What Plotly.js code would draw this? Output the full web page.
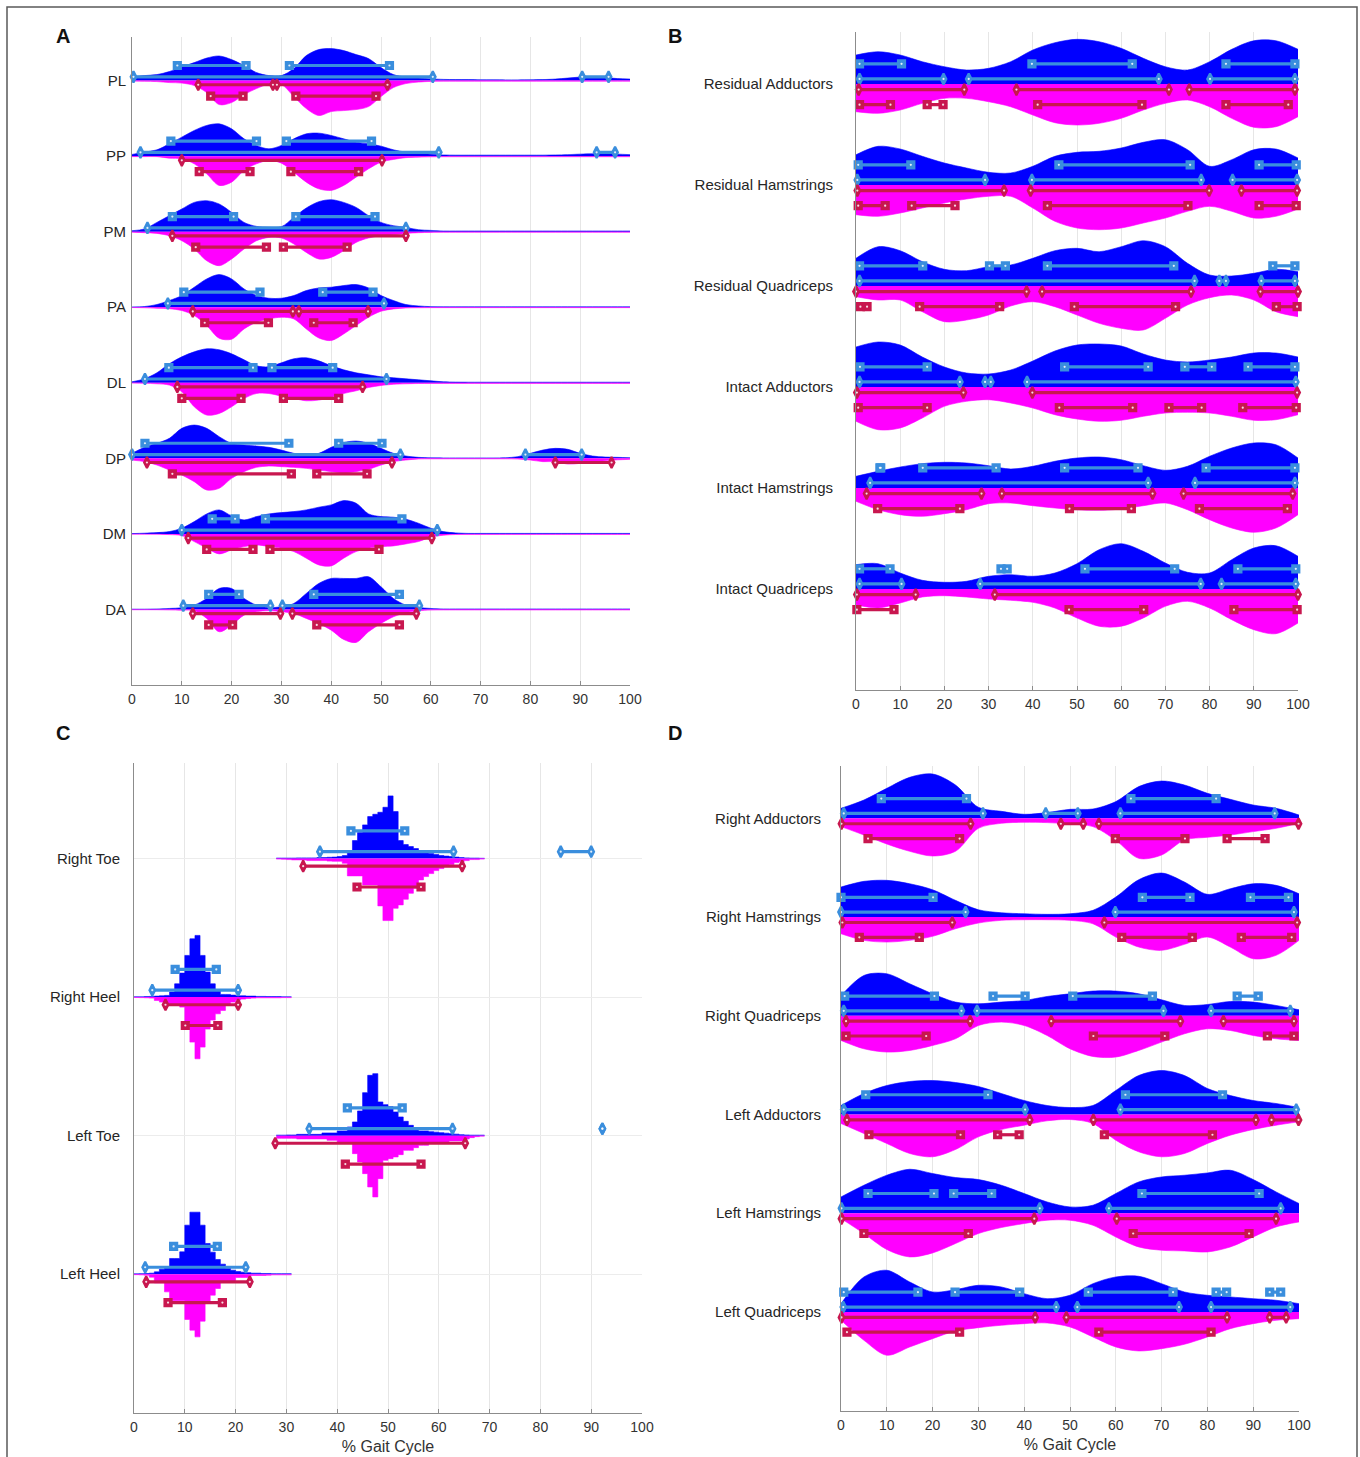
<!DOCTYPE html>
<html><head><meta charset="utf-8">
<script src="https://cdn.plot.ly/plotly-3.0.1.min.js"></script>
<style>html,body{margin:0;padding:0;background:#fff;}#chart{width:1360px;height:1457px;}</style>
</head><body><div id="chart"></div>
<script>
// ---------------- DATA ----------------
// Panel A: categories (top to bottom), density heights sampled every 2.5 % gait cycle
const A_categories = ['PL','PP','PM','PA','DL','DP','DM','DA'];
const A_PL_blue = [3.7,5,6,9,13.7,18,22.5,24.6,21,15,8,5,5,12,25,31,32,30,26,22,13,6,3.5,2.5,1.7,1.2,1,1,0.8,0.8,0.7,0.7,0.8,1,1.5,2.5,3.5,3.5,3,2,1.5];
const A_PL_mag  = [0.5,0.7,1,2,2.5,5,12,24,22,14,8,3.5,4,16,28,35,31,30,29,26,16,7,3,1.5,0.8,0.6,0.6,0.6,0.6,0.6,0.6,0.6,0.6,0.6,0.6,0.6,0.6,0.6,0.6,0.6,0.6];
const A_PP_blue = [1.7,4,6.3,12.3,19,25.7,30.7,32.3,27.3,17.3,10.7,7.3,10.7,17.3,22.3,23,20.7,17.3,14,12.3,10,6.3,4,3,2,1.2,1,1,1,1,1,1,1,1,1.2,1.5,2,2.3,2.3,2,1.5];
const A_PP_mag  = [0.5,0.5,0.5,2,2.7,7.7,17.7,29.3,26,14.3,7.7,4.3,7,16,26,32.7,34.3,29.3,21,12.7,6,3.3,1.5,1,0.7,0.6,0.6,0.6,0.6,0.6,0.6,0.6,0.6,0.6,0.6,0.6,0.6,0.6,0.6,0.6,0.6];
const A_PM_blue = [1,2.7,9.3,16,22.7,29.3,31,27.7,19.3,9.3,5.3,4.3,5,14.3,23.7,30,32,29.3,24.3,16,9.3,6,4.3,2,1.3,0.7,0.7,0.7,0.7,0.7,0.7,0.7,0.7,0.7,0.7,0.7,0.7,0.7,0.7,0.7,0.7];
const A_PM_mag  = [0.5,1,1.7,4,9,17.3,29,34,27.3,17.3,9,5.7,6.3,12.3,20.7,27.3,25.7,19,10.7,6.3,4,3,1.7,1,0.7,0.6,0.6,0.6,0.6,0.6,0.6,0.6,0.6,0.6,0.6,0.6,0.6,0.6,0.6,0.6,0.6];
const A_PA_blue = [0.3,0.7,2.7,6.7,11.7,20,28.3,32.7,28.3,18.3,11.7,9,9,11.7,16.7,19.3,20,21.7,22.7,19.3,11.7,6.7,2.7,1.3,0.6,0.4,0.4,0.4,0.4,0.4,0.4,0.4,0.4,0.4,0.4,0.4,0.4,0.4,0.4,0.4,0.4];
const A_PA_mag  = [0.3,0.5,1,1.5,3.3,8.3,18.3,31,32,21.7,15,11.7,10,11.7,21.7,30.7,33.3,26.7,18.3,10,4,1.7,0.7,0.5,0.4,0.4,0.4,0.4,0.4,0.4,0.4,0.4,0.4,0.4,0.4,0.4,0.4,0.4,0.4,0.4,0.4];
const A_DL_blue = [1,4,10,19,26,31,34,33,29,23,17,16,20,24,25,22,17,13,10,8,6,5,4,3,2,1,0.7,0.6,0.6,0.6,0.6,0.6,0.6,0.6,0.6,0.6,0.6,0.6,0.6,0.6,0.6];
const A_DL_mag  = [0.3,0.5,1,2.3,9,24,32.3,30.7,24,15.7,10.7,10.7,13.3,15.7,18,17.3,14.7,10.7,8,4.7,2.7,1.5,1,0.7,0.6,0.6,0.6,0.6,0.6,0.6,0.6,0.6,0.6,0.6,0.6,0.6,0.6,0.6,0.6,0.6,0.6];
const A_DP_blue = [5,11,15,20,30,33.3,30,21.7,15,13.3,12.3,11,8.3,5,3.7,5,11,15.7,17.3,15,10,5,2.3,1,0.5,0.4,0.4,0.4,0.4,0.4,0.6,1.7,5,8.3,10,9,5,2.3,1.3,1,0.6];
const A_DP_mag  = [1.7,3.3,6.7,11.7,16.7,23.3,31.7,30,20,13.3,9,7.7,8.3,9,10,11.7,13.3,14.3,13.3,11,6.7,3.3,1.7,0.6,0.5,0.5,0.5,0.5,0.5,0.5,0.5,0.7,1.7,3.3,3.3,5.7,5,3.3,2.3,1.5,1];
const A_DM_blue = [0.3,0.7,1.3,2.3,5.7,12.3,20,24,18,14,17.3,20,21.3,22.3,24,26.7,29,33.3,30.7,20,17.3,16.7,14.7,10.7,5.7,2.3,1,0.5,0.5,0.5,0.5,0.5,0.5,0.5,0.5,0.5,0.5,0.5,0.5,0.5,0.5];
const A_DM_mag  = [0.3,0.3,0.3,0.7,1.7,7.7,14.3,20,16,12.7,11,12.7,14.3,17.7,24.3,31,32,24.3,17.7,14.3,12.7,12,10,7.7,3.3,1.3,0.6,0.5,0.5,0.5,0.5,0.5,0.5,0.5,0.5,0.5,0.5,0.5,0.5,0.5,0.5];
const A_DA_blue = [0.3,0.3,0.5,1,1.7,4.3,11,21,21,11,4.3,2,2.7,6,16,26,31,31,31,32.7,22.7,11,4.3,2,1,0.5,0.5,0.5,0.5,0.5,0.5,0.5,0.5,0.5,0.5,0.5,0.5,0.5,0.5,0.5,0.5];
const A_DA_mag  = [0.3,0.3,0.3,0.5,0.7,1.3,9,22.3,15.7,5.7,2.3,1.3,2.3,4,9,14,20.7,30,33,22.3,14,7.3,3.3,1.3,0.6,0.5,0.5,0.5,0.5,0.5,0.5,0.5,0.5,0.5,0.5,0.5,0.5,0.5,0.5,0.5,0.5];
// ranges [start,end] in % gait cycle, one list per category
const A_blueSquare  = [[[9.1,22.9],[31.6,51.7]],[[7.8,25],[31,48.1]],[[8.1,20.4],[32.9,48.8]],[[10.4,25.7],[38.3,48.4]],[[7.4,24.3],[28.1,40.3]],[[2.6,31.5],[41.5,50.2]],[[16.1,20.7],[26.8,54.2]],[[15.4,21.5],[36.5,53.7]]];
const A_blueDiamond = [[[0.3,60.4],[90.4,95.7]],[[1.7,61.6],[93.3,97]],[[3.1,55]],[[7.2,50.6]],[[2.6,51.1]],[[0,53.9],[79,90.3]],[[10,61.3]],[[10.3,27.8],[30.2,57.7]]];
const A_redDiamond  = [[[13.3,28.3],[29.1,51.3]],[[10,50.2]],[[8.1,55]],[[12.2,32.3],[33.5,47.4]],[[9.1,46.3]],[[3,52.2],[85,96.3]],[[11.3,60.2]],[[12.2,29.8],[32.2,57.1]]];
const A_redSquare   = [[[15.8,22.3],[32.9,49]],[[13.5,23.7],[31.9,45.5]],[[12.8,27],[30.4,43.2]],[[14.6,27.4],[36.5,44.4]],[[10,21.9],[30.4,41.5]],[[8.1,32],[37.1,47.2]],[[15,24.3],[27.7,49.6]],[[15.4,20.2],[37.1,53.7]]];

// Panel B: sampled every 5 %
const B_categories = ['Residual Adductors','Residual Hamstrings','Residual Quadriceps','Intact Adductors','Intact Hamstrings','Intact Quadriceps'];
const B_RA_blue = [29,32.3,29,22.3,17.3,14,15.7,22.3,34,41.3,44.7,42.3,35.7,25.7,17.3,14,22.3,34.7,43.3,43.3,34.7];
const B_RA_mag  = [27.7,29.3,26,19.3,14.3,14.3,17.7,22.7,31,38.7,41,39.3,34.3,26,19.3,16,22.7,34.3,43.3,42.7,32.7];
const B_RH_blue = [30.3,38.7,36,28.7,22,17,12.7,12,18.7,28.7,32.7,33.7,37,42.7,45.3,35.3,18.7,25.3,35.3,36,27];
const B_RH_mag  = [29.7,31.3,28,23,18,14,11.3,11.3,23,36.3,43,44.7,43,38,33,26.3,21.3,26.3,33,31.3,24];
const B_RQ_blue = [27.7,39.3,35.3,24.3,16.7,15.3,19.3,21,27.7,35.3,37.7,34.3,39.3,45.3,39.3,22.7,11,10,12.7,16.7,14.3];
const B_RQ_mag  = [10.7,14,14,25.7,35.7,34,29,20,15.7,20.7,29,37.3,42.3,44,32.3,19,11.7,9,14,25.7,30.7];
const B_IA_blue = [40,45,42,30,20,14,13,17,26,36,42,43,41,33,27,25,27,30,34,34,30];
const B_IA_mag  = [34.3,42.7,41,31,19.3,14.3,12.7,16,21,27.7,32,34.3,33.3,29.3,26,25.3,26,29.3,33.3,32.7,27.7];
const B_IH_blue = [11.7,16.7,21,24.3,25.7,25,22.3,19,21.7,26.7,30,31,28.3,22.3,17.7,21.7,31.7,40,45,43.3,30];
const B_IH_mag  = [13.3,21.7,26.7,28.3,25.7,21.7,15.7,15,17.7,20,21.7,22.3,21,17.7,15,21.7,31.7,40,44.3,40,26.7];
const B_IQ_blue = [24.3,25.3,16,8.7,6.7,7.7,12.7,14.3,12.7,16,25.3,39.3,45.3,37.7,26,16.7,16,29.3,41,43.3,32.7];
const B_IQ_mag  = [15.7,19,14,8,6.7,8,10,11.3,13.3,19,29,37.3,37.3,29,17.3,12.3,19,30.7,40.7,44.7,34];
const B_blueSquare  = [[[0.8,10.3],[39.8,62.5],[83.7,99.3]],[[0.5,12.4],[45.9,75.6],[91.2,99.6]],[[0.8,15.1],[30.2,33.8],[43.3,71.9],[94.3,99.3]],[[0.9,16.1],[47.2,66.1],[74.4,80.5],[88.7,99.3]],[[5.4,5.6],[15.1,31.7],[47.2,63.8],[79.2,99.3]],[[0.8,7.7],[32.8,34.2],[51.8,72.1],[86.4,99.5]]];
const B_blueDiamond = [[[0.8,19.8],[25.5,68.5],[80.1,99.3]],[[0.3,29.2],[39.8,78.1],[85.2,99.8]],[[0.8,76.6],[82.2,83.7],[91.7,99.3]],[[0.8,23.5],[29.2,30.5],[38.7,99.5]],[[3.2,66.1],[76.7,99.3]],[[0.8,10.3],[28.1,78],[82.7,99.5]]];
const B_redDiamond  = [[[0.6,24.5],[36.3,70.8],[75.4,99.3]],[[0.3,33.5],[39.5,79.9],[87.2,99.8]],[[0,38.6],[42.1,75.8],[91.5,100]],[[0.2,24.3],[39.9,99.8]],[[2.4,28.4],[33,67.1],[74.1,98.8]],[[0.2,13.5],[31.4,100]]];
const B_redSquare   = [[[0.8,7.8],[16.1,19.7],[41.1,64.7],[83.7,97.8]],[[0.5,6.6],[12.6,22.4],[43.3,75.1],[91.2,99.6]],[[1,2.5],[14.4,32.5],[49.4,72.3],[95.1,99.8]],[[0.5,16.1],[46,62.6],[70.8,78.2],[87.5,99.6]],[[4.9,23.5],[48.3,62.3],[77.7,97.6]],[[0.2,8.6],[48.2,65.1],[85.5,99.8]]];

// Panel C: 1 % histogram bins (toe events: bins 28..68, heel events: bins 0..30)
const C_categories = ['Right Toe','Right Heel','Left Toe','Left Heel'];
const C_RT_blue = [0.5,0.5,0.5,0.5,0.7,0.7,0.7,0.7,1,1,1.3,1.5,2,3,7,18,26,33.7,42,44.3,46.3,51.3,62.7,47,18,14,12,10,8,6.5,5,4,3,2.5,2,1.5,1,0.7,0.5,0.5,0.3];
const C_RT_mag  = [0.5,0.7,1,1.3,1.3,1.5,2,2,2,2,2.5,2.7,2.7,4.7,17.3,17.3,17.3,26.3,26.3,26.3,47.3,62,62,49.7,46.3,40.7,34.7,29.7,21.3,18,15,12,10,8,6,4,3,2,1,1,0.5];
const C_RH_blue = [0.3,0.3,0.5,0.7,1,1.3,1.7,5,13.3,24,41.7,58.3,61.7,41.7,25,13.3,6.7,2.7,2.7,2,1.3,1.3,1,1,0.7,0.7,0.5,0.5,0.5,0.3,0.3];
const C_RH_mag  = [0.3,0.5,0.7,1,3.3,5,6.7,8.3,8.3,10,25,45,61.7,50,32,23,16.7,13.3,8.3,5,3,2,1.3,1,0.7,0.7,0.7,0.7,0.7,0.5,0.5];
const C_LT_blue = [0.5,0.5,0.7,0.7,1.3,1.3,1.3,1.3,1.3,2.7,2.7,2.7,4.7,4.7,8.7,13.7,24.7,43,60.3,62,33.7,31,29,23.7,18.7,14.3,10.3,7,4.7,4.7,4,3.5,3,2.5,2,1.5,1,0.7,0.5,0.5,0.5];
const C_LT_mag  = [2.7,2.7,2.7,2.7,3.3,3.3,3.3,3.3,3.3,3.3,4.7,4.7,6.3,6.3,6.3,18,26.3,38,51.3,61.3,43,24.7,23,21.3,19,14.7,14.7,12,9.7,9.7,7.3,7.3,7.3,7.3,5.3,5.3,5.3,3.3,2,1,0.5];
const C_LH_blue = [0.3,0.5,0.7,1,2.3,5,7.3,15.7,15.7,22.3,49,62,62,49,30.7,22,14.7,10,6,4,2.7,2,1.5,1,1,0.7,0.7,0.5,0.5,0.5,0.5];
const C_LH_mag  = [0.5,0.7,1,3,8.7,8.7,17.7,26.7,26.7,26.7,45.3,56,62.7,47,27.7,21,14.3,7.7,7.7,7.7,3.3,3.3,3.3,1.3,1.3,1.3,1,0.7,0.7,0.7,0.7];
const C_blueSquare  = [[[42.7,53.3]],[[8.1,16.2]],[[42,52.8]],[[7.8,16.4]]];
const C_blueDiamond = [[[36.6,62.9],[84,90]],[[3.6,20.5]],[[34.5,62.7],[92.2,92.2]],[[2.2,22]]];
const C_redDiamond  = [[[33.3,64.6]],[[6.2,20.5]],[[27.8,65.2]],[[2.4,22.8]]];
const C_redSquare   = [[[43.9,56.5]],[[10.1,16.5]],[[41.6,56.5]],[[6.7,17.4]]];

// Panel D: sampled every 5 %
const D_categories = ['Right Adductors','Right Hamstrings','Right Quadriceps','Left Adductors','Left Hamstrings','Left Quadriceps'];
const D_RA_blue = [10,18.3,30,41,44.3,33.3,11,7,4,5.7,9,9.3,16.7,31.7,37.3,33.3,25,19,13.3,10,3.3];
const D_RA_mag  = [8.3,16.7,25.7,33,37.7,33,10,5,4,4.3,5.7,8.3,22,40,36.7,21.7,19,16.7,13.3,10,5];
const D_RH_blue = [30,35.7,36.7,33.3,27.3,16.7,7.3,4.3,3.3,2.7,3.3,6.7,20,37.3,44,35,22.7,28.3,33.3,31.7,23.3];
const D_RH_mag  = [16.7,23.3,25,23.3,19.3,11.7,6,3.3,2.7,2.7,3.3,6.7,20,30,33.3,27.3,20,30,41.7,38.3,23.3];
const D_RQ_blue = [20,40.3,42,32,22,13.7,12,13.7,15.3,19.3,22,24.7,24.7,22,16,10.3,11.3,14.3,13.7,10.3,6];
const D_RQ_mag  = [24.7,33,36.3,34.7,29.7,23,9.7,6.3,9.7,19.7,33,40.7,41.3,34.7,26.3,18,13,14.7,19.7,23,24.7];
const D_LA_blue = [9,21,29,33,34,32,28,21,14,9,7,9,24,39,44,39,26,19,14,11,7];
const D_LA_mag  = [9,19,29,39,42.3,35,22.3,15,10.7,6.3,5,9,25.7,37.3,42.3,39,29,20.7,15,10.7,7.3];
const D_LH_blue = [16.3,28,38,44,39.7,35.7,33.7,28,19.7,11.3,6.3,8,19.7,31.3,36.3,38,40.3,43,33.7,21.3,9.7];
const D_LH_mag  = [5.3,20.3,36.3,43.7,39.7,30.3,20.3,14.3,10.3,7,7,12,23.7,33.7,37,37.7,38.7,33.7,23.7,13.7,8.7];
const D_LQ_blue = [8.3,35,41.7,30,20,22.3,26.7,25,18.3,13.3,16.7,28.3,35,35.7,28.3,20,16.7,15,13.3,11.7,8.3];
const D_LQ_mag  = [8.3,28.3,43.3,35,26.7,19,15.7,13.3,11.7,11,15,25,35,39,36.7,32.3,25,16.7,11.7,8.3,6.7];
const D_blueSquare  = [[[8.8,27.4],[63.3,81.9]],[[0,20.1],[65.8,76.2],[89.4,97.7]],[[0.8,20.4],[33.2,40.2],[50.6,68],[86.5,91.1]],[[5.4,32.1],[62.1,83.3]],[[5.9,20.3],[24.6,32.9],[65.7,91.3]],[[0.6,16.8],[24.9,39],[54,72.5],[81.9,84.2],[93.6,96]]];
const D_blueDiamond = [[[0.6,31],[44.7,51.7],[61,94.7]],[[0,27.2],[59.9,98.9]],[[0.6,26.3],[29.7,70.4],[80.8,98.1]],[[0.6,40.2],[61,99.4]],[[0.1,43.4],[58.5,96]],[[0.5,47],[51.6,73.8],[80.8,98.1]]];
const D_redDiamond  = [[[0.1,28.3],[48,52.9],[56.3,99.9]],[[0.3,24.3],[57.5,99.6]],[[1.1,28.2],[45.9,74.1],[83.5,98.9]],[[1.3,41.2],[55.1,90.6],[94,99.9]],[[0.1,42.2],[60.2,95]],[[0.1,42.4],[49.2,84.3],[93.6,97.2]]];
const D_redSquare   = [[[5.9,25.9],[59.9,75.1],[84.3,92.6]],[[4,17.1],[61.3,76.7],[87.4,98.4]],[[1.1,18.6],[55.1,70.7],[93.1,98.9]],[[6.1,26.1],[34.2,38.9],[57.5,81.1]],[[5,27.8],[63.8,89.1]],[[1.3,25.9],[56.3,80.8]]];

const xTicks = [0,10,20,30,40,50,60,70,80,90,100];
const xTitle = '% Gait Cycle';

// ---------------- BUILD ----------------
function seq(a, b, s) { const o = []; for (let v = a; v <= b + 1e-9; v += s) o.push(+v.toFixed(3)); return o; }
const grid25 = seq(0, 100, 2.5), grid5 = seq(0, 100, 5);
const toeBins = seq(28, 68, 1), heelBins = seq(0, 30, 1);

const W = 1360, H = 1457;
const FONT = 'Liberation Sans, Arial, Helvetica, sans-serif';
const BLUE = '#0000FF', MAG = '#FF00FF', LB = '#3A8EDD', CR = '#C8174F';

const panels = [
  { letter:'A', cats:A_categories, grids:A_categories.map(()=>grid25),
    blue:[A_PL_blue,A_PP_blue,A_PM_blue,A_PA_blue,A_DL_blue,A_DP_blue,A_DM_blue,A_DA_blue],
    mag:[A_PL_mag,A_PP_mag,A_PM_mag,A_PA_mag,A_DL_mag,A_DP_mag,A_DM_mag,A_DA_mag],
    bars:[A_blueSquare,A_blueDiamond,A_redDiamond,A_redSquare],
    box:{l:132,r:630,t:37.3,b:685}, yTop:8.573, shape:'spline', standoff:2, letterPos:[63,36], title:false },
  { letter:'B', cats:B_categories, grids:B_categories.map(()=>grid5),
    blue:[B_RA_blue,B_RH_blue,B_RQ_blue,B_IA_blue,B_IH_blue,B_IQ_blue],
    mag:[B_RA_mag,B_RH_mag,B_RQ_mag,B_IA_mag,B_IH_mag,B_IQ_mag],
    bars:[B_blueSquare,B_blueDiamond,B_redDiamond,B_redSquare],
    box:{l:856,r:1298,t:31.7,b:690}, yTop:6.518, shape:'spline', standoff:19, letterPos:[675,36], title:false },
  { letter:'C', cats:C_categories, grids:[toeBins,heelBins,toeBins,heelBins],
    blue:[C_RT_blue,C_RH_blue,C_LT_blue,C_LH_blue],
    mag:[C_RT_mag,C_RH_mag,C_LT_mag,C_LH_mag],
    bars:[C_blueSquare,C_blueDiamond,C_redDiamond,C_redSquare],
    box:{l:134,r:642,t:763,b:1412.7}, yTop:4.69, shape:'hv', standoff:10, letterPos:[63,733], title:true },
  { letter:'D', cats:D_categories, grids:D_categories.map(()=>grid5),
    blue:[D_RA_blue,D_RH_blue,D_RQ_blue,D_LA_blue,D_LH_blue,D_LQ_blue],
    mag:[D_RA_mag,D_RH_mag,D_RQ_mag,D_LA_mag,D_LH_mag,D_LQ_mag],
    bars:[D_blueSquare,D_blueDiamond,D_redDiamond,D_redSquare],
    box:{l:841,r:1299,t:765.7,b:1410.7}, yTop:6.533, shape:'spline', standoff:16, letterPos:[675,733], title:true }
];

const barStyles = [
  { off: 0.2,   color: LB, symbol: 'square',       size: 7 },
  { off: 0.05,  color: LB, symbol: 'diamond-tall', size: 8 },
  { off: -0.055,color: CR, symbol: 'diamond-tall', size: 8 },
  { off: -0.205,color: CR, symbol: 'square',       size: 7 }
];

const traces = [];
const layout = {
  width: W, height: H, margin: {l:0, r:0, t:0, b:0}, autosize: false,
  paper_bgcolor: '#ffffff', plot_bgcolor: 'rgba(0,0,0,0)', showlegend: false,
  font: {family: FONT, color: '#262626'}, annotations: [], shapes: []
};

panels.forEach((p, pi) => {
  const sfx = pi ? String(pi + 1) : '';
  const xa = 'x' + sfx, ya = 'y' + sfx;
  const N = p.cats.length;
  const unit = (p.box.b - p.box.t) / p.yTop; // px per category step
  const smooth = p.shape === 'spline' ? {shape:'spline', smoothing:0.9} : {shape:'hv'};

  layout['xaxis' + sfx] = {
    domain: [p.box.l / W, p.box.r / W], anchor: ya, range: [0, 100],
    tickvals: xTicks, ticktext: xTicks.map(String),
    showgrid: true, gridcolor: '#e6e6e6', gridwidth: 1, zeroline: false,
    showline: true, linecolor: '#8c8c8c', linewidth: 1,
    ticks: 'inside', ticklen: 4, tickcolor: '#8c8c8c', ticklabelstandoff: 1,
    tickfont: {family: FONT, size: 14, color: '#333'}, fixedrange: true,
    title: p.title ? {text: xTitle, font: {family: FONT, size: 16, color: '#333'}, standoff: 7} : {text: ''}
  };
  layout['yaxis' + sfx] = {
    domain: [1 - p.box.b / H, 1 - p.box.t / H], anchor: xa, range: [0, p.yTop],
    tickvals: p.cats.map((c, i) => N - i), ticktext: p.cats,
    showgrid: true, gridcolor: '#ececec', zeroline: false,
    showline: true, linecolor: '#8c8c8c', linewidth: 1, ticks: '',
    ticklabelstandoff: p.standoff,
    tickfont: {family: FONT, size: 15, color: '#262626'}, fixedrange: true
  };

  p.cats.forEach((c, i) => {
    const yc = N - i;
    let xs = p.grids[i].slice();
    let hb = p.blue[i].slice(), hm = p.mag[i].slice();
    if (p.shape === 'hv') { xs.push(xs[xs.length - 1] + 1); hb.push(hb[hb.length - 1]); hm.push(hm[hm.length - 1]); }
    const base = {type:'scatter', mode:'lines', x: xs, y: xs.map(() => yc), xaxis: xa, yaxis: ya,
                  line: Object.assign({width: 0, color: 'rgba(0,0,0,0)'}, smooth), hoverinfo: 'skip', showlegend: false};
    traces.push(base);
    traces.push({type:'scatter', mode:'lines', name: c + ' (blue)', x: xs, y: hb.map(h => yc + h / unit),
      xaxis: xa, yaxis: ya, fill: 'tonexty', fillcolor: BLUE,
      line: Object.assign({width: 0.6, color: BLUE}, smooth), hoverinfo: 'skip', showlegend: false});
    traces.push(Object.assign({}, base));
    traces.push({type:'scatter', mode:'lines', name: c + ' (magenta)', x: xs, y: hm.map(h => yc - h / unit),
      xaxis: xa, yaxis: ya, fill: 'tonexty', fillcolor: MAG,
      line: Object.assign({width: 0.6, color: MAG}, smooth), hoverinfo: 'skip', showlegend: false});
  });

  const dotX = [], dotY = [];
  p.bars.forEach((group, gi) => {
    const st = barStyles[gi];
    const x = [], y = [];
    group.forEach((segs, i) => {
      const yy = (N - i) + st.off;
      segs.forEach(s => { x.push(s[0], s[1], null); y.push(yy, yy, null); dotX.push(s[0], s[1]); dotY.push(yy, yy); });
    });
    traces.push({type:'scatter', mode:'lines+markers', x, y, xaxis: xa, yaxis: ya, cliponaxis: false,
      line: {color: st.color, width: 3.2}, connectgaps: false,
      marker: {symbol: st.symbol, size: st.size, color: st.color, line: {color: st.color, width: 2.2}},
      hoverinfo: 'skip', showlegend: false});
  });
  traces.push({type:'scatter', mode:'markers', x: dotX, y: dotY, xaxis: xa, yaxis: ya, cliponaxis: false,
    marker: {symbol: 'circle', size: 2.2, color: 'rgba(255,255,255,0.85)', line: {width: 0}},
    hoverinfo: 'skip', showlegend: false});

  layout.annotations.push({xref:'paper', yref:'paper', x: p.letterPos[0] / W, y: 1 - p.letterPos[1] / H,
    xanchor:'center', yanchor:'middle', text:'<b>' + p.letter + '</b>', showarrow:false,
    font:{family: FONT, size: 20, color: '#111'}});
});

layout.shapes.push({type:'rect', xref:'paper', yref:'paper', x0: 7 / W, x1: 1357 / W, y0: 1 - 1470 / H, y1: 1 - 7 / H,
  line:{color:'#5a5a5a', width:1.5}, fillcolor:'rgba(0,0,0,0)', layer:'above'});

Plotly.newPlot('chart', traces, layout, {staticPlot: true, displayModeBar: false});
</script></body></html>
